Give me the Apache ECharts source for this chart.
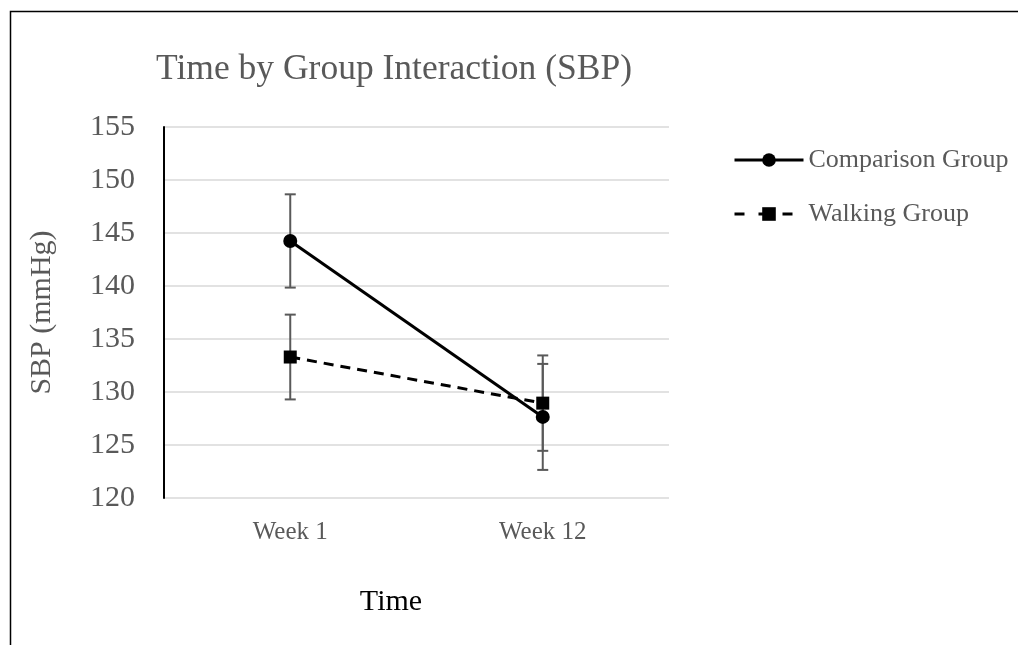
<!DOCTYPE html>
<html>
<head>
<meta charset="utf-8">
<title>Time by Group Interaction (SBP)</title>
<script src="https://cdn.jsdelivr.net/npm/echarts@6/dist/echarts.min.js"></script>
<style>
  html, body { margin: 0; padding: 0; background: #fff; }
  #chart { width: 1018px; height: 645px; }
</style>
</head>
<body>
<div id="chart"></div>
<script>
// Time points on the category axis
const categories = ['Week 1', 'Week 12'];

// Mean systolic blood pressure (mmHg) and error-bar half widths per group
const comparisonMean = [144.25, 127.65];
const comparisonErr = [4.4, 5.0];
const walkingMean = [133.3, 128.95];
const walkingErr = [4.0, 4.5];

// Value axis ticks
const yMin = 120;
const yMax = 155;
const yStep = 5;

const SERIF = '"Liberation Serif", "Times New Roman", Times, serif';
const GREY = '#595959';

function errorRows(means, errs) {
  return means.map((m, i) => [i, m - errs[i], m + errs[i]]);
}

// Vertical bar with short caps at both ends
function renderErrorBar(params, api) {
  const x = api.value(0);
  const top = api.coord([x, api.value(2)]);
  const bot = api.coord([x, api.value(1)]);
  const half = 5.5;
  const style = { stroke: GREY, lineWidth: 2 };
  return {
    type: 'group',
    children: [
      { type: 'line', shape: { x1: top[0], y1: top[1], x2: bot[0], y2: bot[1] }, style },
      { type: 'line', shape: { x1: top[0] - half, y1: top[1], x2: top[0] + half, y2: top[1] }, style },
      { type: 'line', shape: { x1: bot[0] - half, y1: bot[1], x2: bot[0] + half, y2: bot[1] }, style }
    ]
  };
}

const chart = echarts.init(document.getElementById('chart'), null, { renderer: 'canvas' });

chart.setOption({
  animation: false,
  backgroundColor: '#fff',
  textStyle: { fontFamily: SERIF },
  title: {
    text: 'Time by Group Interaction (SBP)',
    left: 389,
    top: 47,
    textAlign: 'center',
    textStyle: { fontFamily: SERIF, fontSize: 35.5, fontWeight: 'normal', color: GREY }
  },
  legend: {
    orient: 'vertical',
    left: 728,
    top: 141,
    itemWidth: 69,
    itemHeight: 17,
    itemGap: 26,
    data: [
      { name: 'Comparison Group' },
      { name: 'Walking Group', lineStyle: { type: [10, 14] } }
    ],
    lineStyle: { width: 3 },
    textStyle: { fontFamily: SERIF, fontSize: 26, color: GREY, lineHeight: 28 }
  },
  grid: { left: 164, right: 349, top: 127, bottom: 147, containLabel: false },
  xAxis: {
    type: 'category',
    data: categories,
    boundaryGap: true,
    axisLine: { show: false },
    axisTick: { show: false },
    axisLabel: { fontFamily: SERIF, fontSize: 25, color: GREY, margin: 22 },
    name: 'Time',
    nameLocation: 'middle',
    nameGap: 89,
    nameTextStyle: { fontFamily: SERIF, fontSize: 30, color: '#000', padding: [0, 51, 0, 0] }
  },
  yAxis: {
    type: 'value',
    min: yMin,
    max: yMax,
    interval: yStep,
    axisLine: { show: true, lineStyle: { color: '#000', width: 2 } },
    axisTick: { show: false },
    axisLabel: { fontFamily: SERIF, fontSize: 30, color: GREY, margin: 29 },
    splitLine: { show: true, lineStyle: { color: '#d9d9d9', width: 1.5 } },
    name: 'SBP (mmHg)',
    nameLocation: 'middle',
    nameGap: 107,
    nameRotate: 90,
    nameTextStyle: { fontFamily: SERIF, fontSize: 30, color: GREY }
  },
  series: [
    {
      type: 'custom',
      name: 'Comparison error',
      renderItem: renderErrorBar,
      data: errorRows(comparisonMean, comparisonErr),
      encode: { x: 0, y: [1, 2] },
      z: 1,
      silent: true
    },
    {
      type: 'custom',
      name: 'Walking error',
      renderItem: renderErrorBar,
      data: errorRows(walkingMean, walkingErr),
      encode: { x: 0, y: [1, 2] },
      z: 1,
      silent: true
    },
    {
      type: 'line',
      name: 'Walking Group',
      data: walkingMean,
      symbol: 'rect',
      symbolSize: 13,
      itemStyle: { color: '#000' },
      lineStyle: { color: '#000', width: 3, type: [10, 7] },
      z: 3
    },
    {
      type: 'line',
      name: 'Comparison Group',
      data: comparisonMean,
      symbol: 'circle',
      symbolSize: 14,
      itemStyle: { color: '#000' },
      lineStyle: { color: '#000', width: 3, type: 'solid' },
      z: 4
    }
  ],
  graphic: [
    {
      type: 'polyline',
      shape: { points: [[10.5, 645], [10.5, 11.5], [1018, 11.5]] },
      style: { stroke: '#000', lineWidth: 1.5, fill: null },
      silent: true
    }
  ]
});
</script>
</body>
</html>
